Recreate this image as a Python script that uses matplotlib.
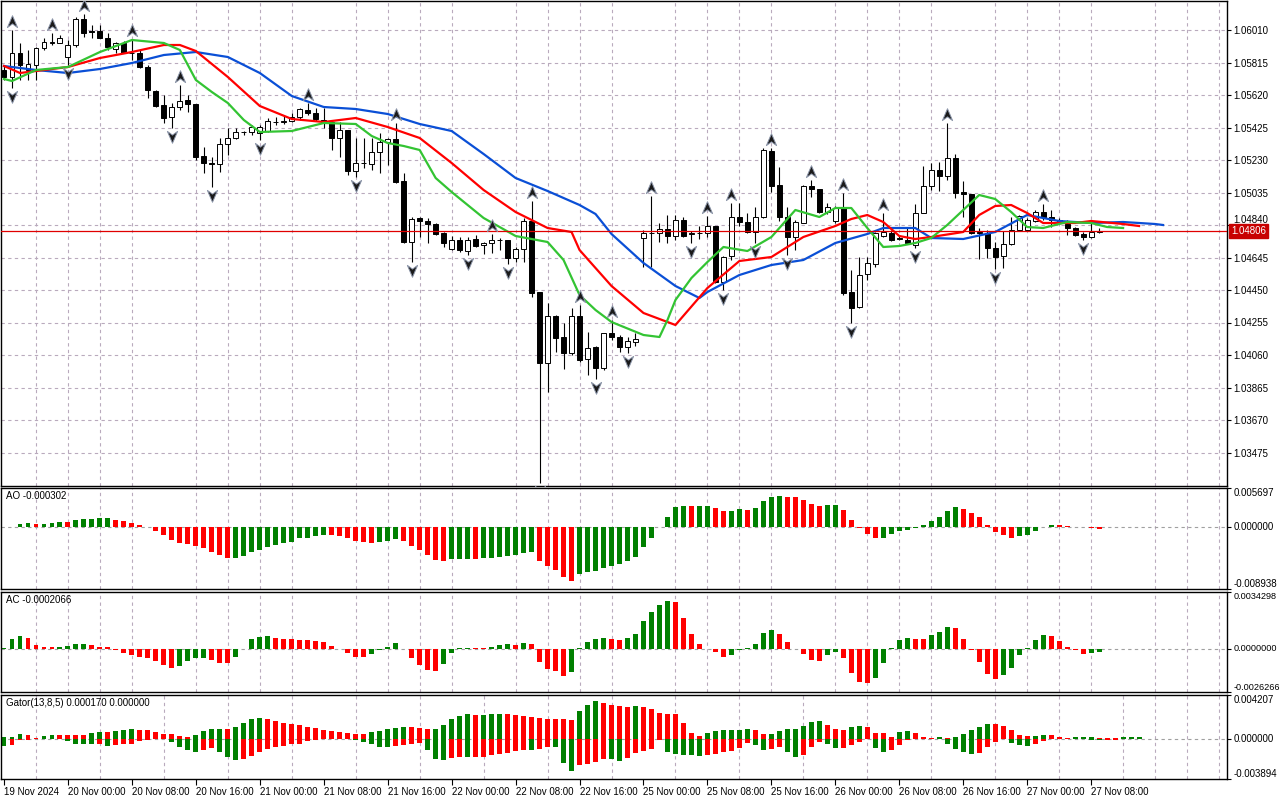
import numpy as np
import matplotlib.pyplot as plt
from matplotlib.path import Path
from matplotlib.transforms import blended_transform_factory

plt.rcParams['font.family'] = ['Liberation Sans', 'DejaVu Sans']
plt.rcParams['font.size'] = 7

# hourly candles, prices in 1e-5 units (bar 0 = 19 Nov 16:00)
opens = np.array([
    105770, 105728, 105872, 105770, 105800, 105902, 105932, 105932, 105848, 105920,
    106076, 106004, 106004, 105962, 105896, 105932, 105872, 105872, 105788, 105644,
    105560, 105488, 105548, 105590, 105566, 105254, 105212, 105206, 105326, 105362,
    105398, 105398, 105392, 105404, 105458, 105458, 105464, 105488, 105530, 105512,
    105470, 105458, 105362, 105410, 105164, 105212, 105206, 105278, 105338, 105356,
    105104, 104738, 104882, 104864, 104846, 104792, 104696, 104750, 104684, 104756,
    104720, 104732, 104750, 104750, 104642, 104696, 104864, 104438, 104012, 104294,
    104168, 104072, 104294, 104036, 104108, 103982, 104192, 104168, 104108, 104138,
    104762, 104792, 104792, 104816, 104774, 104870, 104786, 104792, 104792, 104834,
    104498, 104654, 104888, 104858, 104798, 104888, 105284, 105080, 104888, 104768,
    104852, 105074, 105056, 104918, 104864, 104948, 104438, 104348, 104546, 104606,
    104774, 104792, 104762, 104750, 104720, 104912, 105074, 105170, 105134, 105242,
    105038, 105026, 104798, 104792, 104702, 104654, 104726, 104810, 104810, 104864,
    104918, 104888, 104858, 104846, 104822, 104786, 104768, 104798]) / 1e5
highs = np.array([
    105794, 106010, 105932, 105890, 105908, 105962, 105992, 105980, 105950, 106088,
    106106, 106040, 106040, 105992, 105938, 105944, 105956, 105890, 105800, 105650,
    105620, 105572, 105680, 105620, 105566, 105308, 105248, 105362, 105422, 105422,
    105404, 105440, 105440, 105482, 105488, 105500, 105512, 105542, 105572, 105542,
    105542, 105470, 105458, 105410, 105362, 105362, 105362, 105392, 105362, 105452,
    105152, 104888, 104888, 104882, 104852, 104798, 104774, 104768, 104768, 104780,
    104738, 104786, 104762, 104750, 104708, 104882, 104984, 104438, 104372, 104300,
    104252, 104342, 104360, 104198, 104114, 104192, 104270, 104180, 104168, 104192,
    104810, 105014, 104852, 104900, 104900, 104888, 104804, 104834, 104894, 104834,
    104654, 104972, 104972, 104912, 104948, 105302, 105302, 105188, 104948, 104870,
    105080, 105110, 105056, 104972, 104954, 105032, 104570, 104648, 104648, 104798,
    104912, 104810, 104780, 104828, 104966, 105194, 105212, 105218, 105452, 105266,
    105104, 105026, 104822, 104810, 104738, 104804, 104888, 104900, 104882, 104930,
    104966, 104930, 104882, 104870, 104828, 104798, 104852, 104822]) / 1e5
lows = np.array([
    105710, 105662, 105710, 105710, 105710, 105890, 105920, 105932, 105800, 105908,
    105968, 105962, 105962, 105890, 105872, 105872, 105830, 105782, 105602, 105548,
    105452, 105422, 105530, 105518, 105230, 105152, 105068, 105158, 105260, 105356,
    105380, 105380, 105350, 105398, 105440, 105446, 105458, 105470, 105500, 105464,
    105422, 105290, 105248, 105140, 105128, 105182, 105170, 105152, 105200, 105092,
    104732, 104618, 104768, 104732, 104780, 104708, 104690, 104678, 104660, 104708,
    104666, 104672, 104690, 104606, 104618, 104618, 104408, 103292, 103838, 104078,
    103976, 104060, 104018, 103940, 103916, 103970, 104150, 104078, 104072, 104114,
    104588, 104588, 104738, 104732, 104750, 104768, 104732, 104756, 104768, 104492,
    104450, 104630, 104834, 104792, 104732, 104882, 105038, 104864, 104660, 104690,
    104852, 105008, 104912, 104906, 104852, 104420, 104252, 104342, 104510, 104588,
    104768, 104744, 104750, 104726, 104702, 104912, 105050, 105044, 105110, 105002,
    104888, 104786, 104636, 104642, 104576, 104582, 104720, 104804, 104804, 104858,
    104870, 104828, 104846, 104780, 104774, 104750, 104762, 104792]) / 1e5
closes = np.array([
    105728, 105872, 105800, 105806, 105902, 105938, 105938, 105962, 105920, 106076,
    105992, 105998, 105962, 105908, 105932, 105872, 105872, 105788, 105650, 105554,
    105482, 105548, 105584, 105566, 105248, 105212, 105206, 105326, 105362, 105398,
    105400, 105428, 105428, 105464, 105460, 105464, 105488, 105536, 105512, 105476,
    105458, 105362, 105410, 105164, 105212, 105214, 105278, 105338, 105356, 105098,
    104738, 104876, 104864, 104846, 104786, 104732, 104750, 104690, 104750, 104714,
    104732, 104750, 104750, 104642, 104696, 104864, 104432, 104012, 104294, 104162,
    104072, 104294, 104030, 104102, 103982, 104192, 104168, 104108, 104144, 104156,
    104792, 104792, 104816, 104774, 104870, 104774, 104792, 104792, 104834, 104498,
    104648, 104888, 104858, 104798, 104888, 105290, 105074, 104888, 104768, 104858,
    105074, 105056, 104918, 104948, 104942, 104432, 104342, 104540, 104612, 104792,
    104798, 104750, 104756, 104732, 104912, 105074, 105170, 105134, 105242, 105032,
    105026, 104792, 104792, 104702, 104648, 104726, 104810, 104894, 104870, 104918,
    104888, 104870, 104870, 104822, 104780, 104768, 104798, 104806]) / 1e5

# alligator lines (bar index, price in 1e-5)
jaw_idx = [0, 4, 8, 12, 16, 20, 24, 28, 32, 36, 40, 44, 48, 52, 56, 60, 64, 68, 72, 74, 76,
           80, 84, 87, 88, 92, 96, 100, 104, 108, 110, 114, 116, 120, 124, 128, 132, 136,
           140, 144, 145]
jaw_val = [105794, 105770, 105752, 105776, 105812, 105860, 105878, 105848, 105752, 105614,
           105548, 105536, 105506, 105446, 105404, 105266, 105122, 105044, 104960, 104906,
           104786, 104612, 104474, 104402, 104438, 104540, 104600, 104630, 104732, 104786,
           104822, 104822, 104762, 104756, 104798, 104900, 104864, 104852, 104858, 104846,
           104840]
teeth_idx = [0, 2, 4, 8, 12, 16, 20, 22, 24, 28, 32, 36, 40, 44, 48, 52, 56, 60, 64, 68,
             71, 72, 76, 80, 84, 88, 92, 96, 100, 104, 106, 108, 110, 112, 114, 116, 120,
             122, 124, 126, 128, 130, 134, 136, 140, 142]
teeth_val = [105794, 105752, 105764, 105788, 105842, 105878, 105920, 105920, 105884, 105728,
             105554, 105476, 105458, 105482, 105428, 105362, 105212, 105050, 104918, 104822,
             104798, 104690, 104474, 104312, 104240, 104462, 104624, 104648, 104768, 104834,
             104876, 104900, 104858, 104774, 104756, 104768, 104798, 104900, 104954, 104960,
             104912, 104852, 104852, 104864, 104846, 104834]
lips_idx = [0, 1, 4, 8, 12, 16, 20, 22, 24, 26, 28, 30, 32, 36, 40, 44, 46, 48, 50, 52, 54,
            56, 60, 64, 68, 70, 72, 74, 76, 80, 82, 83, 84, 86, 88, 90, 93, 96, 99, 102, 104,
            106, 108, 110, 112, 114, 116, 118, 120, 122, 124, 126, 128, 130, 133, 136, 138,
            140]
lips_val = [105716, 105704, 105770, 105788, 105878, 105950, 105932, 105890, 105710, 105638,
            105572, 105470, 105398, 105404, 105452, 105446, 105374, 105332, 105314, 105290,
            105122, 105038, 104882, 104774, 104738, 104630, 104420, 104330, 104258, 104180,
            104168, 104270, 104390, 104522, 104618, 104708, 104684, 104768, 104930, 104888,
            104942, 104942, 104822, 104708, 104714, 104732, 104762, 104840, 104930, 105020,
            104996, 104918, 104828, 104822, 104858, 104852, 104828, 104822]

frac_up = [1, 6, 10, 16, 22, 38, 49, 61, 66, 72, 76, 81, 88, 91, 96, 101, 105, 110, 118, 130]
frac_dn = [1, 8, 21, 26, 32, 44, 51, 58, 63, 67, 74, 78, 86, 90, 94, 98, 106, 114, 124, 135]

last_price = 1.04806
price_ticks = [1.06010, 1.05815, 1.05620, 1.05425, 1.05230, 1.05035, 1.04840,
               1.04645, 1.04450, 1.04255, 1.04060, 1.03865, 1.03670, 1.03475]

# oscillators, 1e-5 units
ao = np.array([
    3, 4, 54, 63, 49, 50, 63, 80, 78, 112,
    122, 127, 128, 142, 112, 98, 63, 29, 5, -49,
    -107, -180, -234, -244, -273, -303, -361, -405, -444, -440,
    -415, -356, -327, -288, -254, -224, -210, -161, -151, -127,
    -107, -112, -127, -156, -195, -220, -224, -210, -195, -166,
    -195, -268, -327, -400, -478, -488, -459, -458, -457, -459,
    -449, -444, -429, -415, -400, -371, -356, -488, -561, -620,
    -722, -781, -683, -654, -634, -590, -561, -532, -488, -429,
    -283, -156, 1, 151, 298, 312, 311, 313, 314, 283,
    239, 241, 259, 257, 283, 385, 444, 459, 444, 442,
    400, 342, 312, 327, 328, 254, 107, -5, -98, -156,
    -155, -98, -54, -39, -8, 34, 93, 152, 239, 298,
    269, 210, 152, 34, -68, -112, -156, -127, -112, -54,
    1, 34, 29, 19, 10, 5, -10, -30.2]) / 1e5
ac = np.array([
    2, 57, 79, 67, 24, 8, 7, 12, 14, 26,
    28, 24, 12, 11, -10, -28, -36, -48, -59, -77,
    -101, -119, -107, -77, -59, -58, -71, -89, -90, -53,
    -2, 57, 73, 79, 67, 61, 57, 55, 53, 48,
    42, 18, -2, -28, -48, -49, -34, -10, 12, 36,
    -2, -59, -101, -131, -137, -95, -28, 1, 4, 3,
    1, 12, 24, 30, 24, 36, 30, -83, -125, -137,
    -168, -143, 1, 42, 57, 67, 61, 55, 67, 91,
    170, 224, 267, 291, 285, 188, 91, 30, -3, -22,
    -53, -36, -10, 2, 30, 97, 115, 91, 42, -2,
    -34, -71, -77, -40, -22, -59, -150, -204, -210, -180,
    -89, 6, 55, 67, 61, 60, 85, 103, 133, 127,
    61, -10, -83, -156, -186, -162, -119, -40, 4, 55,
    85, 79, 48, 12, -10, -30, -29, -20.66]) / 1e5
gator_up = np.array([
    13, 16, 48, 39, 10, 29, 39, 38, 37, 36,
    35, 58, 67, 66, 77, 87, 96, 80, 79, 67,
    48, 47, 29, 16, 39, 77, 96, 97, 96, 116,
    154, 193, 202, 189, 173, 154, 144, 135, 116, 106,
    87, 77, 67, 58, 48, 47, 61, 77, 96, 106,
    116, 115, 106, 96, 97, 135, 193, 221, 241, 231,
    232, 233, 241, 240, 231, 221, 212, 202, 193, 192,
    186, 177, 263, 324, 360, 340, 324, 315, 302, 311,
    305, 282, 250, 234, 233, 148, 58, 22, 51, 71,
    80, 81, 82, 90, 80, 48, 49, 77, 96, 97,
    125, 164, 173, 135, 96, 87, 116, 125, 116, 58,
    57, 19, 67, 77, 58, 19, 10, 19, 10, 19,
    48, 87, 116, 144, 143, 125, 87, 39, 29, 30,
    39, 38, 19, 10, 11, 19, 20, 10, 9, 8,
    16, 16.5, 17]) / 1e5
gator_dn = np.array([
    70, 64, 16, 10, 6, 1, 1.5, 1, 26, 48,
    55, 56, 54, 74, 58, 55, 48, 26, 16, 3,
    2, 35, 80, 112, 132, 112, 93, 132, 180, 209,
    199, 170, 132, 103, 80, 71, 55, 48, 26, 16,
    6, 3, 2, 1, 16, 32, 55, 80, 85, 74,
    64, 55, 45, 112, 199, 209, 189, 180, 181, 180,
    179, 160, 151, 141, 122, 112, 113, 103, 83, 84,
    231, 311, 257, 244, 225, 199, 200, 215, 183, 135,
    119, 103, 13, 128, 151, 157, 158, 167, 154, 144,
    128, 122, 90, 42, 61, 112, 103, 83, 132, 180,
    160, 83, 35, 55, 93, 92, 64, 35, 3, 93,
    132, 112, 64, 16, 2, 1, 1, 2, 55, 103,
    132, 151, 141, 83, 35, 6, 45, 64, 74, 55,
    26, 6, 1, 1, 1, 2, 16, 17, 16, 15,
    0]) / 1e5

time_labels = ['19 Nov 2024', '20 Nov 00:00', '20 Nov 08:00', '20 Nov 16:00',
               '21 Nov 00:00', '21 Nov 08:00', '21 Nov 16:00', '22 Nov 00:00',
               '22 Nov 08:00', '22 Nov 16:00', '25 Nov 00:00', '25 Nov 08:00',
               '25 Nov 16:00', '26 Nov 00:00', '26 Nov 08:00', '26 Nov 16:00',
               '27 Nov 00:00', '27 Nov 08:00']

GREEN = '#008000'
RED = '#ff0000'
GRID = '#b9aabd'


def trend_colors(v):
    # green when the bar is higher than the previous one
    cols = [GREEN]
    for k in range(1, len(v)):
        cols.append(GREEN if v[k] > v[k - 1] else RED)
    return cols


W, H = 1280, 800
fig = plt.figure(figsize=(12.8, 8), dpi=100)
fig.patch.set_facecolor('white')
right = 1227 / W


def panel(top, bottom):
    return fig.add_axes([0.0008, 1 - bottom / H, right - 0.0008, (bottom - top) / H])


ax = panel(1, 486)
ao_ax = panel(488, 589)
ac_ax = panel(592, 692)
gt_ax = panel(695, 779)

xlim = (-0.375, 153)
for a in (ax, ao_ax, ac_ax, gt_ax):
    a.set_xlim(*xlim)
    a.set_facecolor('white')
    for s in a.spines.values():
        s.set_color('black')
        s.set_linewidth(1.0)
    a.set_xticks(np.arange(0, 153, 4), minor=True)
    a.grid(True, which='minor', axis='x', color=GRID, ls=(0, (3, 3)), lw=0.8)
    a.tick_params(axis='x', which='both', length=0, labelbottom=False)
    a.yaxis.tick_right()
    a.tick_params(axis='y', length=3, width=0.8, pad=1.5, labelsize=7)
    a.set_axisbelow(True)

# ---- main chart
idx = np.arange(len(opens))
ax.set_ylim(1.03274, 1.06184)
ax.set_yticks(price_ticks)
ax.set_yticklabels(['%.5f' % p for p in price_ticks])
ax.grid(True, which='major', axis='y', color=GRID, ls=(0, (3, 3)), lw=0.8)
# the label next to the current price sits just above the price box
for lab, p in zip(ax.get_yticklabels(), price_ticks):
    if abs(p - 1.04840) < 1e-6:
        lab.set_va('bottom')

ax.vlines(idx, lows, highs, color='black', lw=0.8, zorder=2)
body_lo = np.minimum(opens, closes)
body_h = np.maximum(np.abs(closes - opens), 0.000012)
body_fc = ['white' if c >= o else 'black' for o, c in zip(opens, closes)]
ax.bar(idx, body_h, bottom=body_lo, width=0.62, color=body_fc,
       edgecolor='black', lw=0.7, zorder=2.5)

ax.plot(jaw_idx, np.array(jaw_val) / 1e5, color='#0a4fd6', lw=1.6, zorder=3)
ax.plot(teeth_idx, np.array(teeth_val) / 1e5, color='#ff0000', lw=1.6, zorder=3.1)
ax.plot(lips_idx, np.array(lips_val) / 1e5, color='#33c433', lw=1.6, zorder=3.2)

up_arrow = Path([(0, 1), (0.75, -0.75), (0, -0.2), (-0.75, -0.75), (0, 1)],
                [Path.MOVETO, Path.LINETO, Path.LINETO, Path.LINETO, Path.CLOSEPOLY])
dn_arrow = Path([(0, -1), (0.75, 0.75), (0, 0.2), (-0.75, 0.75), (0, -1)],
                [Path.MOVETO, Path.LINETO, Path.LINETO, Path.LINETO, Path.CLOSEPOLY])
off = 0.0005
ax.scatter(frac_up, highs[frac_up] + off, marker=up_arrow, s=95, c='#1a1a1a',
           edgecolors='#8a94a8', linewidths=0.7, zorder=4)
ax.scatter(frac_dn, lows[frac_dn] - off, marker=dn_arrow, s=95, c='#1a1a1a',
           edgecolors='#8a94a8', linewidths=0.7, zorder=4)

ax.axhline(last_price, color='#e00000', lw=0.9, zorder=3.5)
btr = blended_transform_factory(ax.transAxes, ax.transData)
ax.text(1.0035, last_price, '%.5f' % last_price, transform=btr, ha='left', va='center',
        color='white', fontsize=7, clip_on=False, zorder=10,
        bbox=dict(boxstyle='square,pad=0.22', fc='#c80000', ec='#c80000'))


def oscillator(a, vals, lo, hi, labels, title, lower=None, size=7):
    a.set_ylim(lo, hi)
    a.axhline(0, color='#a0a0a0', ls=(0, (3, 3)), lw=0.8, zorder=1)
    a.bar(np.arange(len(vals)), vals, width=0.62, color=trend_colors(vals), zorder=2)
    if lower is not None:
        a.bar(np.arange(len(lower)), -lower, width=0.62, color=trend_colors(lower), zorder=2)
    a.set_yticks([hi, 0, lo])
    a.set_yticklabels(labels, fontsize=size)
    for lab, va in zip(a.get_yticklabels(), ['top', 'center', 'bottom']):
        lab.set_va(va)
    a.annotate(title, xy=(0, 1), xycoords='axes fraction', xytext=(3.5, -2.5),
               textcoords='offset points', ha='left', va='top', fontsize=7)


oscillator(ao_ax, ao, -0.008938, 0.005697, ['0.005697', '0.000000', '-0.008938'],
           'AO -0.000302')
oscillator(ac_ax, ac, -0.0026266, 0.0034298, ['0.0034298', '0.0000000', '-0.0026266'],
           'AC -0.0002066', size=6.6)
oscillator(gt_ax, gator_up, -0.003894, 0.004207, ['0.004207', '0.000000', '-0.003894'],
           'Gator(13,8,5) 0.000170 0.000000', lower=gator_dn)

gt_ax.set_xticks(np.arange(0, 137, 8))
gt_ax.set_xticklabels(time_labels, ha='left')
gt_ax.tick_params(axis='x', which='major', length=4, width=0.8, pad=2,
                  labelbottom=True, labelsize=7)

fig.savefig('out.png', dpi=100, facecolor='white')
